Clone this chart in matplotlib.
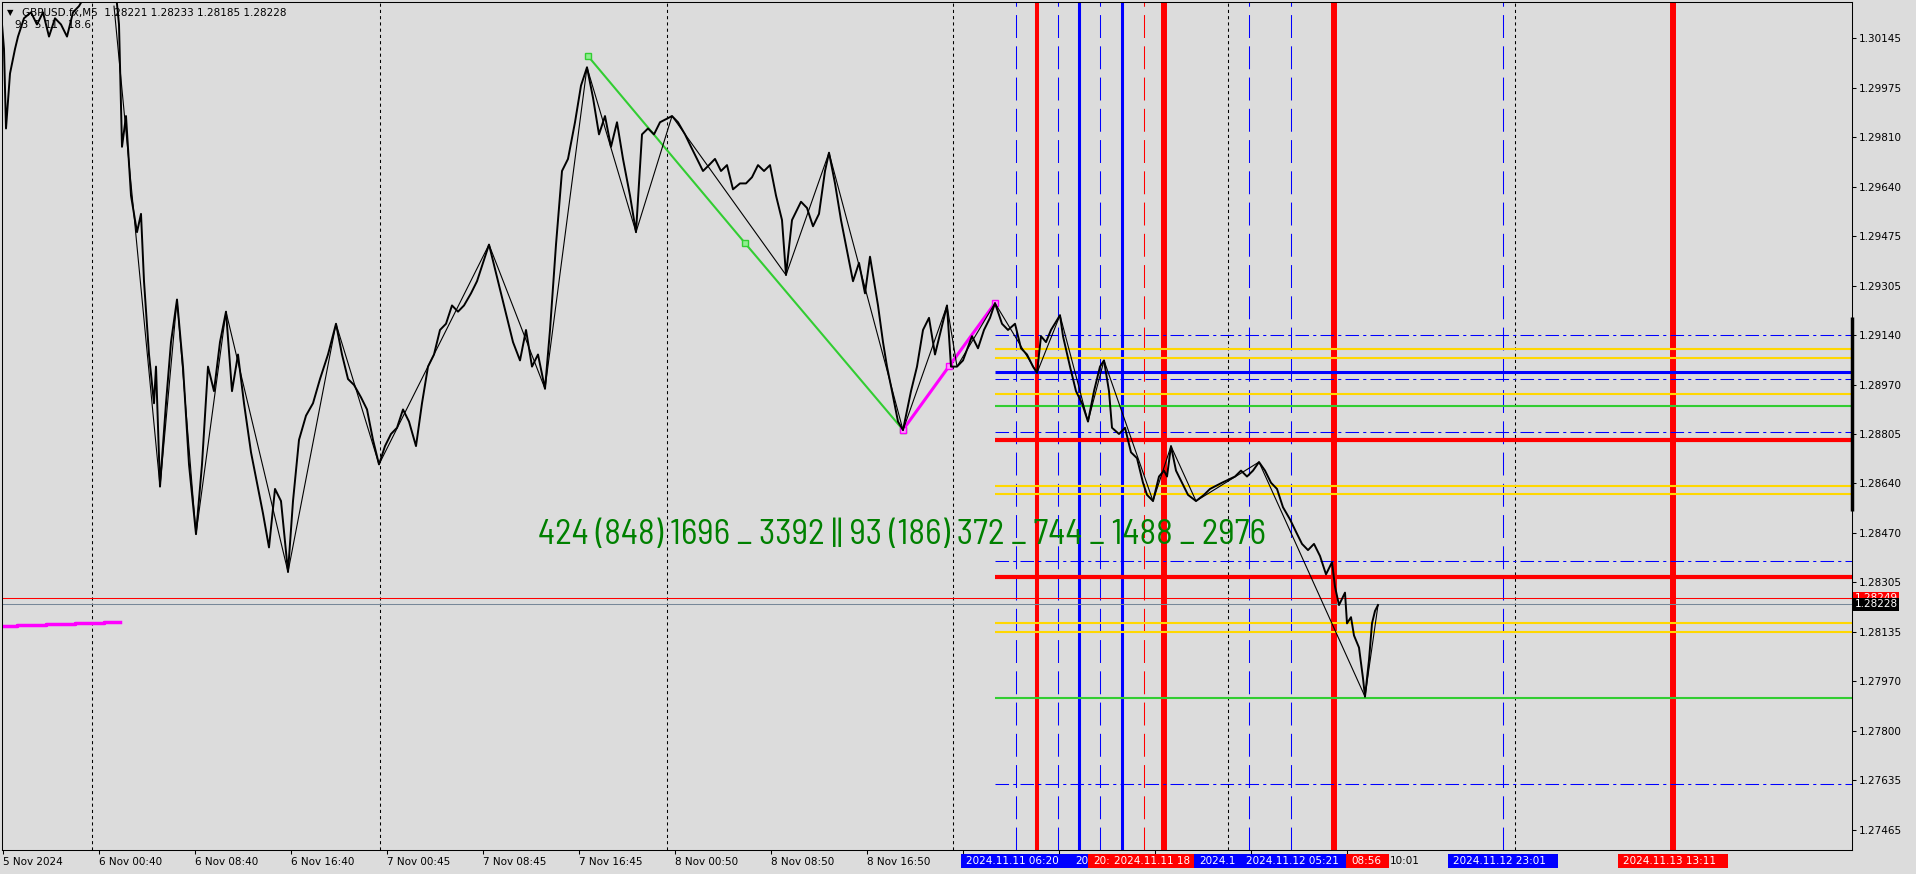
import matplotlib.pyplot as plt
import matplotlib.transforms as mtransforms
from matplotlib import font_manager
from matplotlib.patches import Rectangle

W, H = 1916, 874
BG = '#DCDCDC'

# M5 close line (bar index, price)
bars = [0, 2, 4, 8, 13, 16, 22, 29, 35, 41, 47, 53, 59, 65, 71, 77, 84, 90, 96, 102,
        108, 114, 117, 120, 124, 129, 135, 139, 142, 147, 152, 154, 158, 164, 169, 175,
        181, 187, 194, 200, 206, 212, 218, 224, 230, 236, 242, 249, 255, 261, 267, 273,
        279, 286, 291, 297, 304, 311, 318, 326, 334, 340, 346, 352, 359, 365, 371, 377,
        383, 389, 395, 401, 407, 414, 420, 426, 432, 438, 444, 450, 456, 462, 469, 475,
        481, 487, 493, 499, 505, 511, 518, 524, 530, 536, 543, 548, 554, 560, 566, 573,
        579, 585, 591, 597, 603, 609, 615, 621, 628, 634, 640, 646, 652, 658, 670, 676,
        683, 689, 695, 701, 707, 713, 719, 725, 731, 738, 744, 750, 756, 762, 768, 774,
        780, 784, 790, 799, 805, 811, 817, 823, 827, 833, 839, 845, 851, 857, 863, 868,
        876, 881, 885, 890, 896, 901, 909, 915, 921, 927, 933, 939, 945, 949, 955, 961,
        970, 976, 982, 988, 993, 1000, 1006, 1013, 1019, 1025, 1031, 1035, 1039, 1044,
        1049, 1058, 1061, 1068, 1074, 1080, 1086, 1092, 1098, 1102, 1107, 1110, 1117,
        1123, 1129, 1135, 1141, 1145, 1151, 1157, 1162, 1165, 1169, 1174, 1180, 1186,
        1194, 1202, 1208, 1220, 1233, 1239, 1245, 1251, 1257, 1263, 1269, 1275, 1281,
        1288, 1294, 1300, 1306, 1312, 1318, 1324, 1330, 1333, 1337, 1343, 1345, 1349,
        1352, 1357, 1361, 1363, 1367, 1370, 1373, 1376]
closes = [1.30191, 1.30108, 1.29839, 1.30025, 1.30108, 1.30150, 1.30212, 1.30232, 1.30191,
          1.30232, 1.30150, 1.30212, 1.30191, 1.30150, 1.30232, 1.30253, 1.30294, 1.30274,
          1.30315, 1.30294, 1.30274, 1.30294, 1.30191, 1.29777, 1.29881, 1.29612, 1.29488,
          1.29550, 1.29322, 1.29074, 1.28909, 1.29033, 1.28627, 1.28909, 1.29116, 1.29260,
          1.29033, 1.28702, 1.28466, 1.28702, 1.29033, 1.28950, 1.29116, 1.29219, 1.28950,
          1.29074, 1.28909, 1.28743, 1.28640, 1.28536, 1.28421, 1.28619, 1.28578, 1.28338,
          1.28578, 1.28785, 1.28867, 1.28909, 1.28991, 1.29074, 1.29178, 1.29074, 1.28991,
          1.28971, 1.28929, 1.28888, 1.28785, 1.28702, 1.28764, 1.28805, 1.28826, 1.28888,
          1.28847, 1.28764, 1.28909, 1.29033, 1.29074, 1.29157, 1.29178, 1.29240, 1.29219,
          1.29240, 1.29281, 1.29322, 1.29384, 1.29446, 1.29364, 1.29281, 1.29198, 1.29116,
          1.29054, 1.29157, 1.29033, 1.29074, 1.28958, 1.29157, 1.29446, 1.29695, 1.29736,
          1.29860, 1.29984, 1.30046, 1.29943, 1.29819, 1.29881, 1.29777, 1.29860, 1.29736,
          1.29612, 1.29488, 1.29819, 1.29839, 1.29819, 1.29860, 1.29881, 1.29860, 1.29819,
          1.29777, 1.29736, 1.29695, 1.29715, 1.29736, 1.29695, 1.29715, 1.29633, 1.29653,
          1.29653, 1.29674, 1.29715, 1.29695, 1.29715, 1.29612, 1.29529, 1.29343, 1.29529,
          1.29591, 1.29570, 1.29508, 1.29550, 1.29695, 1.29757, 1.29653, 1.29529, 1.29426,
          1.29322, 1.29384, 1.29281, 1.29405, 1.29240, 1.29116, 1.29033, 1.28950, 1.28847,
          1.28818, 1.28950, 1.29033, 1.29157, 1.29198, 1.29074, 1.29157, 1.29240, 1.29033,
          1.29033, 1.29054, 1.29136, 1.29095, 1.29157, 1.29198, 1.29248, 1.29178, 1.29157,
          1.29178, 1.29095, 1.29074, 1.29033, 1.29012, 1.29136, 1.29116, 1.29157, 1.29207,
          1.29136, 1.29033, 1.28950, 1.28909, 1.28847, 1.28950, 1.29033, 1.29054, 1.28950,
          1.28826, 1.28805, 1.28826, 1.28743, 1.28723, 1.28640, 1.28599, 1.28578, 1.28661,
          1.28681, 1.28661, 1.28764, 1.28681, 1.28640, 1.28599, 1.28578, 1.28599, 1.28619,
          1.28640, 1.28661, 1.28681, 1.28661, 1.28681, 1.28710, 1.28681, 1.28640, 1.28619,
          1.28557, 1.28516, 1.28474, 1.28433, 1.28412, 1.28433, 1.28392, 1.28330, 1.28371,
          1.28288, 1.28226, 1.28268, 1.28164, 1.28185, 1.28123, 1.28082, 1.27978, 1.27916,
          1.28040, 1.28164, 1.28206, 1.28226]

# zigzag swing points
zz_bars = [112, 158, 175, 194, 224, 286, 334, 377, 487, 543, 585, 634, 670, 784, 827,
           901, 945, 955, 993, 1035, 1058, 1086, 1102, 1151, 1169, 1194, 1257, 1363, 1376]
zz_prices = [1.30253, 1.28627, 1.29260, 1.28466, 1.29219, 1.28338, 1.29178, 1.28702,
             1.29446, 1.28958, 1.30046, 1.29488, 1.29881, 1.29343, 1.29757, 1.28818,
             1.29240, 1.29033, 1.29248, 1.29012, 1.29207, 1.28847, 1.29054, 1.28578,
             1.28764, 1.28578, 1.28710, 1.27916, 1.28226]

green_bars = [586, 743, 901]
green_prices = [1.30084, 1.29451, 1.28819]
pink_bars = [901, 947, 993]
pink_prices = [1.28819, 1.29034, 1.29248]
pink_left_bars = [1, 15, 44, 73, 102, 118]
pink_left_prices = [1.28155, 1.28159, 1.28162, 1.28165, 1.28169, 1.28169]

# vertical lines
day_seps = [90, 378, 665, 951, 1226, 1513]
blue_dash_x = [1014, 1056, 1098, 1247, 1289, 1501]
red_thick_x = [1035, 1162, 1332, 1671]
red_thick_w = [2.9, 4.3, 4.3, 4.3]
blue_thick_x = [1077, 1120]
red_dash_x = [1142]

# horizontal levels
levels_start = 993
blue_dashdot_levels = [1.29140, 1.28991, 1.28812, 1.28375, 1.27621]
yellow_levels = [1.29093, 1.29062, 1.28939, 1.28629, 1.28602, 1.28165, 1.28135]
blue_levels = [1.29015]
green_levels = [1.28900, 1.27912]
red_levels = [1.28786, 1.28321]
ask_price = 1.28249
bid_price = 1.28228

ytick_vals = [1.30145, 1.29975, 1.29810, 1.29640, 1.29475, 1.29305, 1.29140, 1.28970,
              1.28805, 1.28640, 1.28470, 1.28305, 1.28135, 1.27970, 1.27800, 1.27635, 1.27465]
xtick_bars = [1, 97, 193, 289, 385, 481, 577, 673, 769, 865, 961, 1057, 1153, 1249, 1345]
xtick_labels = ['5 Nov 2024', '6 Nov 00:40', '6 Nov 08:40', '6 Nov 16:40', '7 Nov 00:45',
                '7 Nov 08:45', '7 Nov 16:45', '8 Nov 00:50', '8 Nov 08:50', '8 Nov 16:50',
                '', '', '', '', '']

# visible pieces of the vertical-line time boxes (box from, box to, text)
box_from = [959, 1068, 1086, 1107, 1192, 1239, 1344, 1446, 1616]
box_to = [1068, 1086, 1107, 1192, 1239, 1344, 1387, 1556, 1726]
box_texts = ['2024.11.11 06:20', '20', '20:', '2024.11.11 18', '2024.1',
             '2024.11.12 05:21', '08:56', '2024.11.12 23:01', '2024.11.13 13:11']
box_colors = ['#0000FF', '#0000FF', '#FF0000', '#FF0000', '#0000FF', '#0000FF', '#FF0000',
              '#0000FF', '#FF0000']
tail_label_bar = 1388
tail_label = '10:01'

cycles_text = '424 (848) 1696 _ 3392 || 93 (186) 372 _ 744 _ 1488 _ 2976'


def pick_narrow_family():
    names = sorted({f.name for f in font_manager.fontManager.ttflist})
    for key in ('Liberation Sans Narrow', 'Arial Narrow'):
        if key in names:
            return key
    for n in names:
        if 'SemiCondensed' in n or 'Semi Condensed' in n:
            return n
    for n in names:
        if 'Condensed' in n and 'Extra' not in n and 'Ultra' not in n:
            return n
    for n in names:
        if 'Narrow' in n or 'Condensed' in n:
            return n
    return 'DejaVu Sans'


fig = plt.figure(figsize=(W / 100, H / 100), dpi=100, facecolor=BG)
ax = fig.add_axes([2 / W, 24 / H, 1850 / W, 848 / H], facecolor=BG)
ax.set_xlim(0, 1850)
ax.set_ylim(1.27397, 1.30267)

for x in day_seps:
    ax.axvline(x, color='black', lw=0.75, ls=(0, (3, 3)), zorder=1)
for x in blue_dash_x:
    ax.axvline(x, color='#0000FF', lw=0.75, ls=(0, (22, 8)), zorder=1)
for x in red_dash_x:
    ax.axvline(x, color='#FF0000', lw=0.75, ls=(0, (22, 8)), zorder=1)
for x in blue_thick_x:
    ax.axvline(x, color='#0000FF', lw=2.2, zorder=1.2)
for x, w in zip(red_thick_x, red_thick_w):
    ax.axvline(x, color='#FF0000', lw=w, zorder=1.2)

ax.hlines(blue_dashdot_levels, levels_start, 1850, color='#0000FF', lw=0.75,
          linestyles=[(0, (13, 4, 3, 4))], zorder=1.3)
ax.hlines(yellow_levels, levels_start, 1850, color='#FFD700', lw=1.5, zorder=1.3)
ax.hlines(green_levels, levels_start, 1850, color='#32CD32', lw=1.5, zorder=1.3)
ax.hlines(blue_levels, levels_start, 1850, color='#0000FF', lw=2.2, zorder=1.3)
ax.hlines(red_levels, levels_start, 1850, color='#FF0000', lw=3.0, zorder=1.3)
ax.axhline(ask_price, color='#FF0000', lw=0.75, zorder=1.3)
ax.axhline(bid_price, color='#778899', lw=0.75, zorder=1.3)

ax.plot(pink_left_bars, pink_left_prices, color='#FF00FF', lw=2.5, drawstyle='steps-post',
        zorder=2)
ax.plot(green_bars, green_prices, color='#32CD32', lw=1.5, marker='s', ms=4,
        mfc='#90EE90', mec='#32CD32', zorder=2)
ax.plot(pink_bars, pink_prices, color='#FF00FF', lw=2.2, marker='s', ms=4,
        mfc='#FF99FF', mec='#FF00FF', zorder=2)

ax.plot(zz_bars, zz_prices, color='black', lw=0.8, zorder=2.2)
ax.plot(bars, closes, color='black', lw=1.4, zorder=2.3)

# big green cycle text, sized so it spans the same width as in the reference
cyc = ax.text(536, 1.28463, cycles_text, color='#008000', fontsize=20, va='center',
              ha='left', family=pick_narrow_family(), zorder=3)
fig.canvas.draw()
w_now = cyc.get_window_extent(fig.canvas.get_renderer()).width
cyc.set_fontsize(20 * 727 / w_now)

# axes styling
for s in ax.spines.values():
    s.set_color('black')
    s.set_linewidth(0.75)
ax.yaxis.tick_right()
ax.set_yticks(ytick_vals, labels=[f'{v:.5f}' for v in ytick_vals])
ax.tick_params(axis='y', length=3, width=0.75, pad=2, labelsize=7.5, colors='black')
ax.set_xticks(xtick_bars, labels=xtick_labels)
ax.tick_params(axis='x', length=3, width=0.75, pad=2, labelsize=7.5, colors='black')
for lbl in ax.get_xticklabels():
    lbl.set_ha('left')

# thick marker on the price scale
ax.plot([1850, 1850], [1.28544, 1.29201], color='black', lw=2.5, clip_on=False,
        solid_capstyle='butt', zorder=4)

# price boxes on the right scale
ty = mtransforms.blended_transform_factory(ax.transAxes, ax.transData)
ax.text(1.0015, ask_price, f'{ask_price:.5f}', transform=ty, color='white', fontsize=7.5,
        va='center', ha='left', zorder=5,
        bbox=dict(boxstyle='square,pad=0.15', fc='#FF0000', ec='none'))
ax.text(1.0015, bid_price, f'{bid_price:.5f}', transform=ty, color='white', fontsize=7.5,
        va='center', ha='left', zorder=5.1,
        bbox=dict(boxstyle='square,pad=0.15', fc='black', ec='none'))

# time boxes below the axis
tx = mtransforms.blended_transform_factory(ax.transData, ax.transAxes)
y0, y1 = -0.0212, -0.0047
for b0, b1, t, c in zip(box_from, box_to, box_texts, box_colors):
    ax.add_patch(Rectangle((b0, y0), b1 - b0, y1 - y0, transform=tx, fc=c, ec='none',
                           clip_on=False, zorder=5))
    ax.text(b0 + 5, (y0 + y1) / 2, t, transform=tx, color='white', fontsize=7.5,
            va='center', ha='left', zorder=5.5, clip_on=False)
ax.text(tail_label_bar, (y0 + y1) / 2, tail_label, transform=tx, color='black',
        fontsize=7.5, va='center', ha='left', zorder=5.5, clip_on=False)

# header
fig.text(7 / W, 1 - 13 / H, '\u25bc', fontsize=6, va='center', ha='left')
fig.text(22 / W, 1 - 13 / H, 'GBPUSD.fx,M5  1.28221 1.28233 1.28185 1.28228',
         fontsize=7.5, va='center', ha='left')
fig.text(15 / W, 1 - 25 / H, '93  5.11   18.6', fontsize=7.5, va='center', ha='left')

fig.savefig('out.png', dpi=100, facecolor=BG)
